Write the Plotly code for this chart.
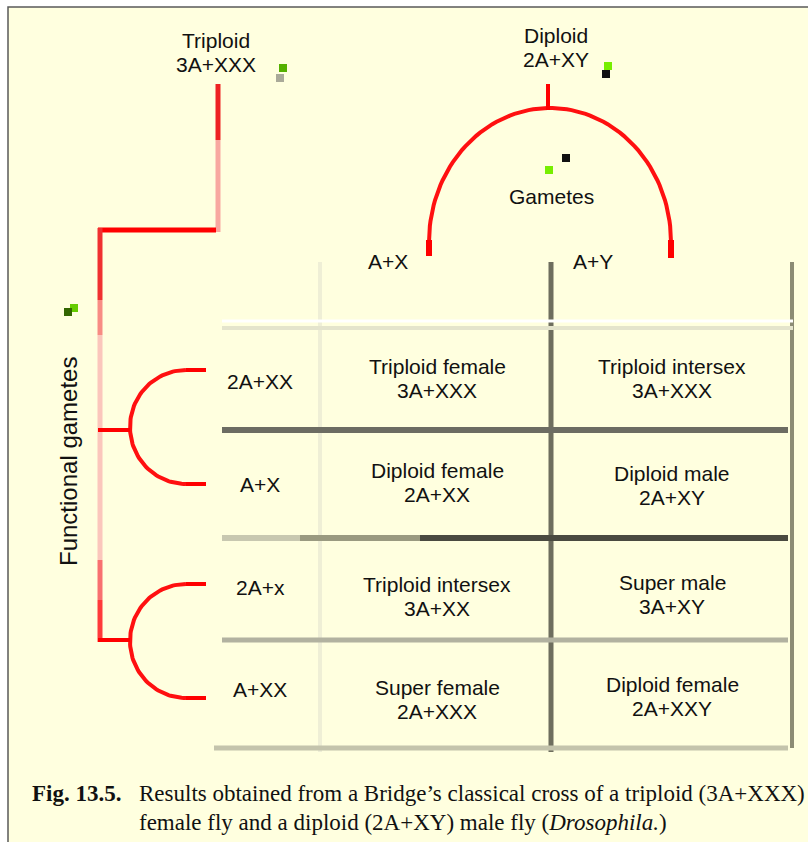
import numpy as np
import plotly.graph_objects as go

# ---- content ----
parent_labels = ["Triploid<br>3A+XXX", "Diploid<br>2A+XY"]
male_gametes = ["A+X", "A+Y"]
female_gametes = ["2A+XX", "A+X", "2A+x", "A+XX"]
cells = [
    ["Triploid female<br>3A+XXX", "Triploid intersex<br>3A+XXX"],
    ["Diploid female<br>2A+XX", "Diploid male<br>2A+XY"],
    ["Triploid intersex<br>3A+XX", "Super male<br>3A+XY"],
    ["Super female<br>2A+XXX", "Diploid female<br>2A+XXY"],
]
side_label = "Functional gametes"
top_label = "Gametes"
caption_bold = "Fig. 13.5."
caption_lines = [
    "Results obtained from a Bridge\u2019s classical cross of a triploid (3A+XXX)",
    "female fly and a diploid (2A+XY) male fly (<i>Drosophila.</i>)",
]

W, H = 808, 842
BG = "#FFFFDF"
SANS = "Liberation Sans, Arial, sans-serif"
SERIF = "Liberation Serif, Times New Roman, serif"

fig = go.Figure()
shapes = []
ann = []

# background frame
shapes.append(dict(type="rect", x0=8, y0=7, x1=W + 5, y1=H + 5,
                   fillcolor=BG, line=dict(color="#5a5a5a", width=1.5), layer="below"))

def seg(x0, y0, x1, y1, color, w):
    shapes.append(dict(type="line", x0=x0, y0=y0, x1=x1, y1=y1,
                       line=dict(color=color, width=w)))

# ---- table grid ----
seg(320, 262, 320, 752, "#EFEFD6", 4)          # faint left column line
seg(551, 262, 551, 752, "#6E6E5E", 5)          # middle column line
seg(792, 262, 792, 748, "#8C8C74", 4)          # right line
seg(222, 321, 793, 321, "#FFFFFF", 3)
seg(222, 328, 793, 328, "#E4E4CC", 4)
seg(222, 430, 788, 430, "#6C6C62", 6)
seg(222, 538, 300, 538, "#C8C8B0", 6)
seg(300, 538, 420, 538, "#9A9A80", 6)
seg(420, 538, 788, 538, "#4A4A40", 6)
seg(222, 640, 788, 640, "#B2B2A0", 5)
seg(214, 748, 788, 748, "#C4C4AC", 5)

# ---- red connectors ----
RED = "#FF0000"
seg(218, 84, 218, 140, "#EE2222", 5)
seg(218, 140, 218, 232, "#F8A8A0", 5)
seg(216, 230, 98, 230, RED, 5)
seg(100, 228, 100, 300, "#F03030", 5)
seg(100, 300, 100, 335, "#F88C84", 5)
seg(100, 335, 100, 560, "#FBC6BC", 5)
seg(100, 560, 100, 600, "#F87070", 5)
seg(100, 600, 100, 642, "#FF3A3A", 5)
seg(98, 430, 130, 430, RED, 4)
seg(98, 640, 130, 640, RED, 4)
seg(548, 84, 548, 110, RED, 4)

def arc(cx, cy, rx, ry, a0, a1, color="#FF1010", w=4):
    t = np.linspace(np.radians(a0), np.radians(a1), 80)
    fig.add_trace(go.Scatter(x=cx + rx * np.cos(t), y=cy - ry * np.sin(t),
                             mode="lines", line=dict(color=color, width=w),
                             hoverinfo="skip", showlegend=False))

# left C-shaped arcs
for cy in (427, 641):
    arc(186, cy, 56, 57, 90, 270)
    seg(186, cy - 57, 206, cy - 57, RED, 4)
    seg(186, cy + 57, 206, cy + 57, RED, 4)
# top dome
arc(550, 242, 121, 134, 0, 180)
seg(429, 240, 429, 256, RED, 6)
seg(671, 240, 671, 258, RED, 6)

# small green artefacts
for (x, y, c) in [(283, 68, "#55B000"), (608, 66, "#77EE00"), (549, 170, "#77EE00"),
                  (74, 308, "#66CC00")]:
    shapes.append(dict(type="rect", x0=x - 4, y0=y - 4, x1=x + 4, y1=y + 4,
                       fillcolor=c, line=dict(width=0)))
for (x, y, c) in [(280, 78, "#AAAA99"), (606, 74, "#111111"), (566, 158, "#111111"),
                  (68, 312, "#336600")]:
    shapes.append(dict(type="rect", x0=x - 4, y0=y - 4, x1=x + 4, y1=y + 4,
                       fillcolor=c, line=dict(width=0)))

def txt(x, y, s, size=21, font=SANS, gap=24, **kw):
    lines = s.split("<br>")
    n = len(lines)
    for k, line in enumerate(lines):
        yy = y + (k - (n - 1) / 2) * gap
        ann.append(dict(x=x, y=yy, text=line, showarrow=False,
                        xanchor=kw.get("xanchor", "center"), yanchor="middle",
                        textangle=kw.get("textangle", 0),
                        font=dict(family=font, size=size, color="#111111")))

txt(216, 52, parent_labels[0])
txt(556, 47, parent_labels[1])
txt(551, 196, top_label)
txt(388, 261, male_gametes[0])
txt(593, 261, male_gametes[1])
txt(68, 462, side_label, size=24, textangle=-90)

label_y = [381, 484, 587, 689]
for i, lab in enumerate(female_gametes):
    txt(260, label_y[i], lab)
col_x = [437, 672]
cell_y = [[378, 378], [482, 485], [596, 594], [699, 696]]
for i, row in enumerate(cells):
    for j, s in enumerate(row):
        txt(col_x[j], cell_y[i][j], s)

txt(30, 793, "<b>" + caption_bold + "</b>", size=23, font=SERIF, xanchor="left")
txt(137, 793, caption_lines[0], size=23, font=SERIF, xanchor="left")
txt(137, 822, caption_lines[1], size=23, font=SERIF, xanchor="left")

fig.update_layout(
    width=W, height=H, margin=dict(l=0, r=0, t=0, b=0),
    paper_bgcolor="white", plot_bgcolor="white",
    xaxis=dict(range=[0, W], visible=False, fixedrange=True),
    yaxis=dict(range=[H, 0], visible=False, fixedrange=True),
    shapes=shapes, annotations=ann, showlegend=False,
)
fig.write_html("out.html", config={"displayModeBar": False},
               post_script="document.body.style.margin='0px';document.body.style.overflow='hidden';")
